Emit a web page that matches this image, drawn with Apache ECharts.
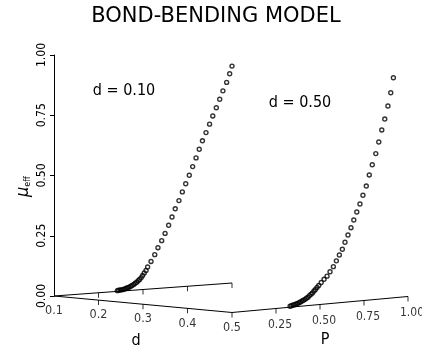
<!DOCTYPE html>
<html>
<head>
<meta charset="utf-8">
<script src="https://cdn.jsdelivr.net/npm/echarts@6/dist/echarts.min.js"></script>
<style>html,body{margin:0;padding:0;background:#fff}#c{width:422px;height:347px}</style>
</head>
<body>
<div id="c"></div>
<script>
// ---- data ----
const titleText = 'BOND-BENDING MODEL';
const dTickValues = [0.1, 0.2, 0.3, 0.4, 0.5];
const pTickValues = [0.25, 0.50, 0.75, 1.00];
const muTickInterval = 0.25;
const annotations = ['d = 0.10', 'd = 0.50'];
const dLeft = 0.10;   // plane of the left curve
const dRight = 0.50;  // plane of the right curve

// left curve (d = 0.10): P and mu_eff
const leftP  = [0.356,0.363,0.372,0.380,0.389,0.397,0.406,0.414,0.422,0.431,0.439,0.448,0.456,0.465,0.473,0.481,0.490,0.498,0.507,0.517,0.526,0.545,0.566,0.584,0.605,0.624,0.644,0.663,0.681,0.702,0.721,0.740,0.760,0.779,0.798,0.816,0.834,0.854,0.874,0.892,0.912,0.931,0.949,0.970,0.987,1.000];
const leftMu = [0.003,0.004,0.005,0.005,0.006,0.008,0.010,0.012,0.014,0.017,0.020,0.024,0.028,0.032,0.038,0.043,0.050,0.058,0.068,0.078,0.092,0.114,0.141,0.169,0.197,0.226,0.259,0.292,0.325,0.358,0.393,0.426,0.460,0.495,0.530,0.565,0.599,0.632,0.666,0.699,0.732,0.766,0.800,0.834,0.869,0.900];

// right curve (d = 0.50): P and mu_eff
const rightP  = [0.330,0.338,0.347,0.355,0.364,0.372,0.381,0.389,0.398,0.406,0.415,0.423,0.432,0.440,0.449,0.457,0.466,0.474,0.483,0.493,0.507,0.523,0.540,0.557,0.576,0.593,0.610,0.627,0.642,0.659,0.676,0.692,0.709,0.727,0.744,0.763,0.780,0.797,0.817,0.834,0.851,0.868,0.886,0.902,0.917];
const rightMu = [0.004,0.006,0.008,0.009,0.011,0.013,0.015,0.018,0.021,0.024,0.027,0.031,0.035,0.041,0.046,0.051,0.058,0.064,0.072,0.079,0.091,0.103,0.115,0.132,0.152,0.175,0.198,0.221,0.249,0.278,0.307,0.338,0.370,0.402,0.437,0.474,0.519,0.560,0.605,0.652,0.701,0.745,0.798,0.852,0.913];

// ---- oblique projection of the (d, P) floor onto the 2-D grid ----
const FO = [0, 0], FF = [0.50282, -0.06846], FB = [0.50282, 0.05394], FR = [1, -0.00207];
function proj(d, P, mu) {
  const u = (d - 0.1) / 0.4, v = P;
  const w00 = (1 - u) * (1 - v), w10 = u * (1 - v), w01 = (1 - u) * v, w11 = u * v;
  const x = FO[0]*w00 + FF[0]*w10 + FB[0]*w01 + FR[0]*w11;
  const y = FO[1]*w00 + FF[1]*w10 + FB[1]*w01 + FR[1]*w11 + mu;
  return [x, y];
}

const FONT = "'DejaVu Sans Condensed', 'DejaVu Sans', sans-serif";
const black = '#000';

const lineSeries = (pts) => ({
  type: 'line', data: pts, symbol: 'none', clip: false, silent: true,
  lineStyle: { color: black, width: 1 }, animation: false, z: 2
});

const leftData = leftP.map((p, i) => proj(dLeft, p, leftMu[i]));
const rightData = rightP.map((p, i) => proj(dRight, p, rightMu[i]));

const tickPts = [];
dTickValues.slice(1).forEach(d => tickPts.push(proj(d, 0, 0)));
pTickValues.forEach(p => tickPts.push(proj(dLeft, p, 0)));
pTickValues.forEach(p => tickPts.push(proj(dRight, p, 0)));

const curveStyle = { color: 'rgba(0,0,0,0)', borderColor: black, borderWidth: 1.4 };

const option = {
  backgroundColor: '#fff',
  animation: false,
  grid: { left: 54, top: 55, width: 354, height: 241, outerBoundsMode: 'none' },
  xAxis: { type: 'value', min: 0, max: 1, show: false },
  yAxis: {
    type: 'value', min: 0, max: 1, interval: muTickInterval,
    axisLine: { show: true, lineStyle: { color: black, width: 1 } },
    axisTick: { show: true, length: 4, lineStyle: { color: black } },
    splitLine: { show: false },
    axisLabel: { rotate: 90, margin: 6, color: black, fontFamily: FONT, fontSize: 12,
      formatter: v => v.toFixed(2) },
    name: '{m|μ}{s|eff}', nameLocation: 'middle', nameGap: 22, nameRotate: 90,
    nameMoveOverlap: false,
    nameTextStyle: { padding: [0, 22, 0, 0], rich: {
      m: { fontSize: 18, fontFamily: FONT, fontStyle: 'italic', color: black },
      s: { fontSize: 9, fontFamily: FONT, color: black, verticalAlign: 'bottom', padding: [8, 0, 0, 0] }
    } }
  },
  graphic: [
    { type: 'text', x: 216, y: 17, style: { text: titleText, fontFamily: "'DejaVu Sans', sans-serif", fontSize: 21, fill: black, align: 'center', verticalAlign: 'middle' } },
    { type: 'text', x: 124, y: 91, style: { text: annotations[0], fontFamily: FONT, fontSize: 16, fill: black, align: 'center', verticalAlign: 'middle' } },
    { type: 'text', x: 300, y: 103, style: { text: annotations[1], fontFamily: FONT, fontSize: 16, fill: black, align: 'center', verticalAlign: 'middle' } },
    { type: 'text', x: 136, y: 341, style: { text: 'd', fontFamily: FONT, fontSize: 16, fill: black, align: 'center', verticalAlign: 'middle' } },
    { type: 'text', x: 325, y: 340, style: { text: 'P', fontFamily: FONT, fontSize: 16, fill: black, align: 'center', verticalAlign: 'middle' } }
  ],
  series: [
    lineSeries([proj(0.1, 0, 0), proj(0.5, 0, 0)]),
    lineSeries([proj(dLeft, 0, 0), proj(dLeft, 1, 0)]),
    lineSeries([proj(dRight, 0, 0), proj(dRight, 1, 0)]),
    { type: 'scatter', data: tickPts, symbol: 'rect', symbolSize: [1, 5], symbolOffset: [0, 2.5],
      itemStyle: { color: black }, clip: false, silent: true, z: 2 },
    { type: 'scatter', clip: false, silent: true, symbolSize: 0,
      data: dTickValues.map(d => ({ value: proj(d, 0, 0), name: d.toFixed(1) })),
      label: { show: true, position: 'inside', offset: [0, 15], formatter: '{b}', color: black, fontFamily: FONT, fontSize: 12.5 } },
    { type: 'scatter', clip: false, silent: true, symbolSize: 0,
      data: pTickValues.map(p => ({ value: proj(dRight, p, 0), name: p.toFixed(2) })),
      label: { show: true, position: 'inside', offset: [4, 16], formatter: '{b}', color: black, fontFamily: FONT, fontSize: 12 } },
    { type: 'scatter', name: 'd = 0.10', data: leftData, symbol: 'circle', symbolSize: 4, clip: false, silent: true,
      itemStyle: curveStyle, z: 3 },
    { type: 'scatter', name: 'd = 0.50', data: rightData, symbol: 'circle', symbolSize: 4, clip: false, silent: true,
      itemStyle: curveStyle, z: 3 }
  ]
};

const chart = echarts.init(document.getElementById('c'), null, { renderer: 'canvas' });
chart.setOption(option);
</script>
</body>
</html>
